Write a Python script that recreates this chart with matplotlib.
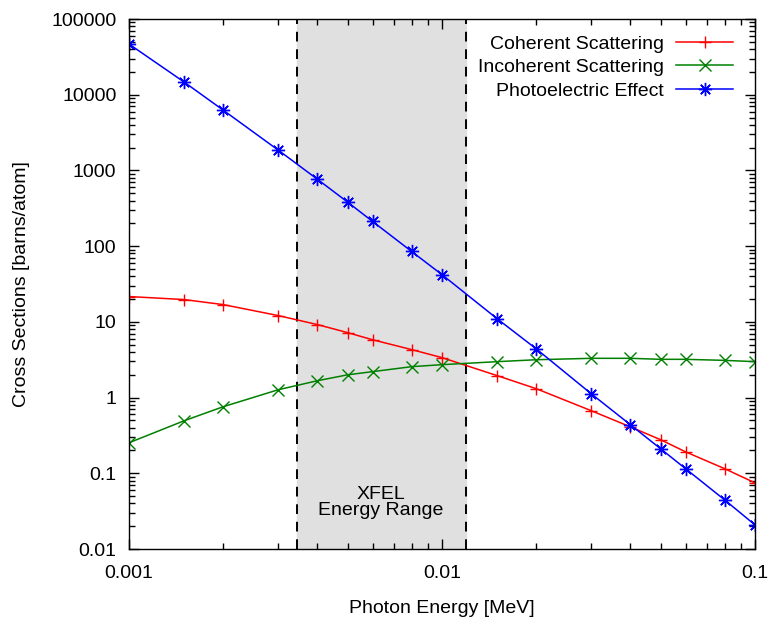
import matplotlib
matplotlib.use('Agg')
import matplotlib.pyplot as plt
from matplotlib.ticker import FixedLocator, FixedFormatter, LogLocator, NullFormatter

plt.rcParams['font.family'] = ['Liberation Sans', 'DejaVu Sans']

# photon energies [MeV]
energy = [0.001, 0.0015, 0.002, 0.003, 0.004, 0.005, 0.006, 0.008, 0.01,
          0.015, 0.02, 0.03, 0.04, 0.05, 0.06, 0.08, 0.1]
# cross sections [barns/atom]
coherent = [21.6, 19.7, 16.9, 12.1, 9.2, 7.2, 5.8, 4.3, 3.37,
            1.95, 1.31, 0.67, 0.41, 0.277, 0.192, 0.115, 0.0747]
incoherent = [0.253, 0.494, 0.757, 1.27, 1.67, 2.0, 2.2, 2.56, 2.72,
              2.98, 3.16, 3.3, 3.3, 3.2, 3.2, 3.1, 2.98]
photoelectric = [46700, 14700, 6250, 1850, 764, 380, 212, 85, 42,
                 11.0, 4.4, 1.12, 0.437, 0.21, 0.115, 0.0445, 0.0208]
xfel_range = [0.00344, 0.0119]

yticks = [0.01, 0.1, 1, 10, 100, 1000, 10000, 100000]
ytick_labels = ['0.01', '0.1', '1', '10', '100', '1000', '10000', '100000']
xticks = [0.001, 0.01, 0.1]
xtick_labels = ['0.001', '0.01', '0.1']

FS = 14

fig = plt.figure(figsize=(7.69, 6.18), dpi=100)
ax = fig.add_axes([129 / 769, 1 - 549 / 618, 626 / 769, 530 / 618])

ax.axvspan(xfel_range[0], xfel_range[1], color='#e0e0e0', zorder=0)
for xv in xfel_range:
    ax.axvline(xv, color='black', linestyle=(0, (5, 4)), linewidth=1.4, zorder=1)
ax.text(0.00638, 0.052, 'XFEL', ha='center', va='center', fontsize=FS)
ax.text(0.00638, 0.032, 'Energy Range', ha='center', va='center', fontsize=FS)

ax.plot(energy, coherent, color='#ff0000', marker='+', markersize=9,
        markeredgewidth=1.0, linewidth=1.1, label='Coherent Scattering')
ax.plot(energy, incoherent, color='#008000', marker='x', markersize=9,
        markeredgewidth=1.0, linewidth=1.1, label='Incoherent Scattering')
ax.plot(energy, photoelectric, color='#0000ff', marker=(8, 2, 0), markersize=9.5,
        markeredgewidth=1.0, linewidth=1.1, label='Photoelectric Effect')

ax.set_xscale('log')
ax.set_yscale('log')
ax.set_xlim(0.001, 0.1)
ax.set_ylim(0.01, 100000)

ax.xaxis.set_major_locator(FixedLocator(xticks))
ax.xaxis.set_major_formatter(FixedFormatter(xtick_labels))
ax.yaxis.set_major_locator(FixedLocator(yticks))
ax.yaxis.set_major_formatter(FixedFormatter(ytick_labels))
ax.xaxis.set_minor_locator(LogLocator(base=10, subs=range(2, 10), numticks=20))
ax.yaxis.set_minor_locator(LogLocator(base=10, subs=range(2, 10), numticks=20))
ax.xaxis.set_minor_formatter(NullFormatter())
ax.yaxis.set_minor_formatter(NullFormatter())

ax.tick_params(which='both', direction='in', top=True, right=True,
               labelsize=FS, width=1.0, colors='black')
ax.tick_params(which='major', length=7.5)
ax.tick_params(which='minor', length=4)
ax.tick_params(axis='x', which='major', pad=11.5)
ax.tick_params(axis='y', which='major', pad=9)
for s in ax.spines.values():
    s.set_linewidth(1.0)

ax.set_xlabel('Photon Energy [MeV]', fontsize=FS, labelpad=13)
ax.set_ylabel('Cross Sections [barns/atom]', fontsize=FS)
ax.yaxis.set_label_coords(-0.158, 0.5)

ax.legend(loc='upper right', frameon=False, markerfirst=False, fontsize=FS,
          handlelength=2.93, handletextpad=0.64, labelspacing=0.31,
          borderpad=0, borderaxespad=0, bbox_to_anchor=(0.965, 0.97))

fig.savefig('out.png', dpi=100)
